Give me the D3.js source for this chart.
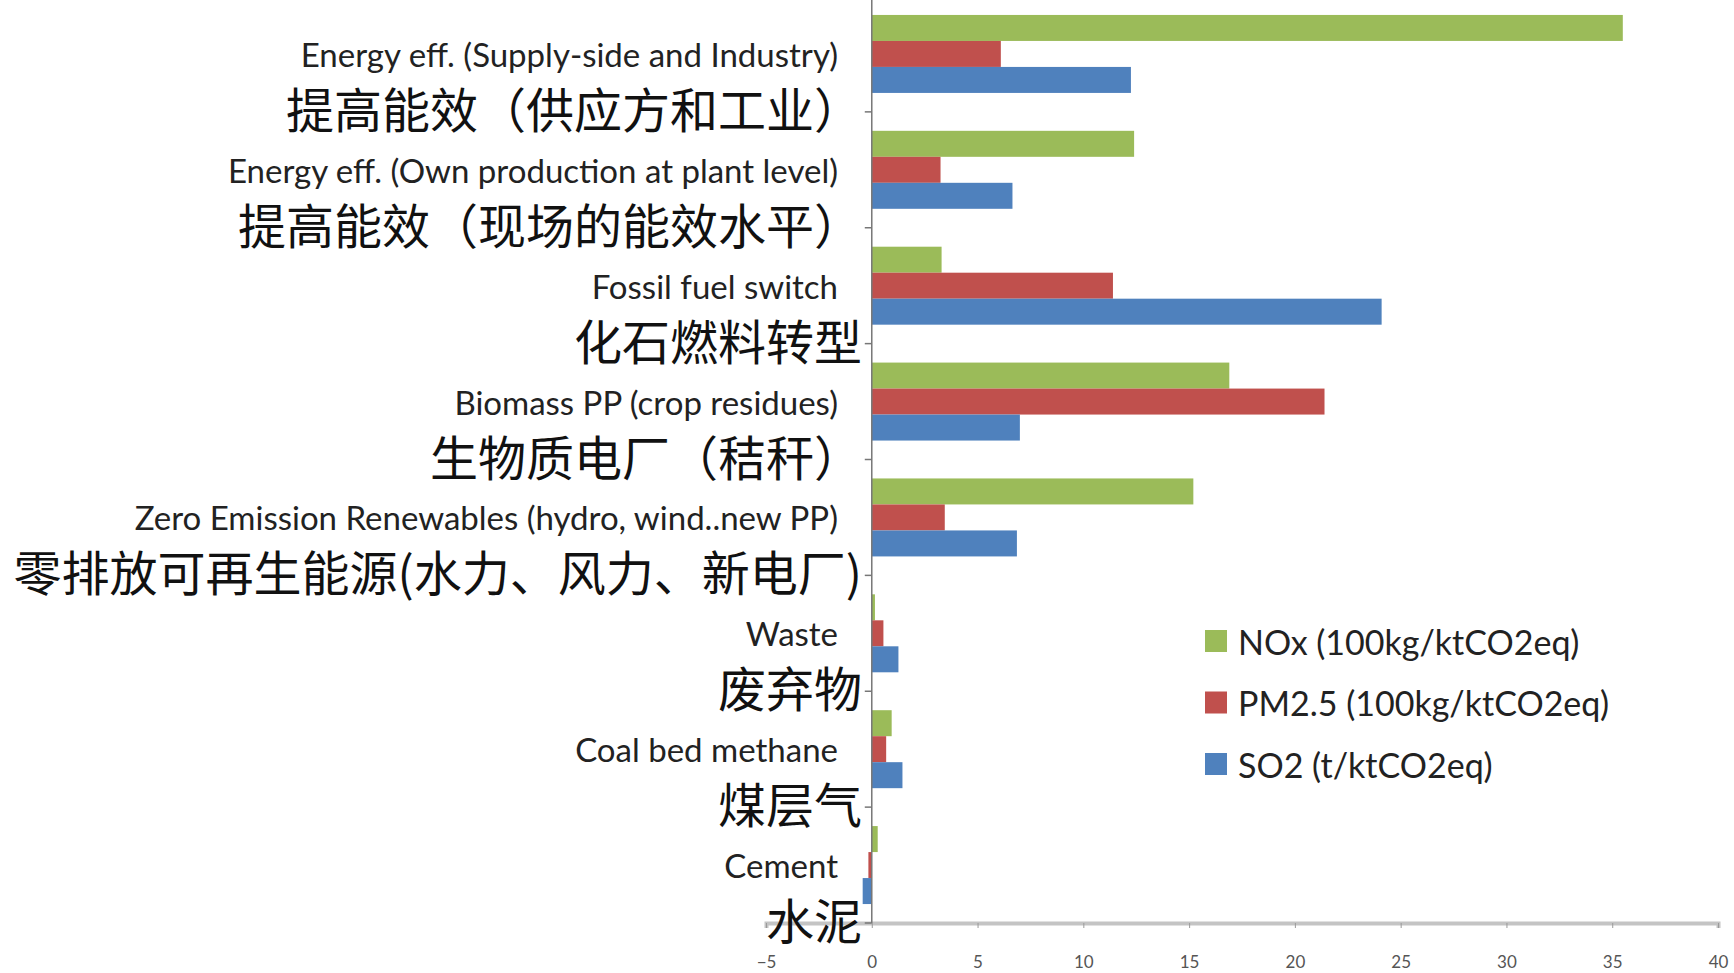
<!DOCTYPE html>
<html><head><meta charset="utf-8">
<script src="https://cdn.jsdelivr.net/npm/d3@7"></script>
<style>
html,body{margin:0;padding:0;background:#fff;overflow:hidden}
svg{display:block}
</style></head>
<body>
<svg id="c" width="1734" height="973"></svg>
<script>
const categoriesEn = ["Energy eff. (Supply-side and Industry)", "Energy eff. (Own production at plant level)", "Fossil fuel switch", "Biomass PP (crop residues)", "Zero Emission Renewables (hydro, wind..new PP)", "Waste", "Coal bed methane", "Cement"];
const categoriesZh = ["提高能效（供应方和工业）", "提高能效（现场的能效水平）", "化石燃料转型", "生物质电厂（秸秆）", "零排放可再生能源(水力、风力、新电厂)", "废弃物", "煤层气", "水泥"];
const seriesNames = ["NOx (100kg/ktCO2eq)", "PM2.5 (100kg/ktCO2eq)", "SO2 (t/ktCO2eq)"];
const noxValues = [35.5, 12.4, 3.3, 16.9, 15.2, 0.15, 0.94, 0.28];
const pm25Values = [6.1, 3.25, 11.4, 21.4, 3.45, 0.55, 0.68, -0.16];
const so2Values = [12.25, 6.65, 24.1, 7.0, 6.86, 1.26, 1.45, -0.43];
const xTicks = [-5, 0, 5, 10, 15, 20, 25, 30, 35, 40];
const seriesColors = ["#9BBB59", "#C0504D", "#4F81BD"];

const allSeries = [noxValues, pm25Values, so2Values];
const svg = d3.select("#c");

const x = d3.scaleLinear().domain([-5, 40]).range([766, 1718]);
const y = d3.scaleBand().domain(categoriesEn).range([-4, 923]).padding(0);
const yInner = d3.scaleBand().domain(seriesNames).range([0, y.bandwidth()]).paddingInner(0).paddingOuter(0.729);

// bars
const groups = svg.append("g").selectAll("g").data(categoriesEn).join("g")
  .attr("transform", d => `translate(0,${y(d)})`);
groups.selectAll("rect")
  .data((d, i) => seriesNames.map((s, j) => ({s, v: allSeries[j][i], c: seriesColors[j]})))
  .join("rect")
  .attr("x", d => x(Math.min(0, d.v)))
  .attr("width", d => Math.abs(x(d.v) - x(0)))
  .attr("y", d => yInner(d.s))
  .attr("height", yInner.bandwidth())
  .attr("fill", d => d.c);

// x axis
const xAxis = d3.axisBottom(x).tickValues(xTicks).tickSize(5).tickPadding(28).tickFormat(d3.format("d"));
const gx = svg.append("g").attr("transform", `translate(0,${y.range()[1]})`).call(xAxis);
gx.select(".domain").attr("stroke", "#c4c4c4").attr("stroke-width", 4);
gx.selectAll(".tick line").attr("stroke", "#9a9a9a");
gx.selectAll(".tick text").attr("fill", "#555").style("font-family", "Lato, sans-serif").style("font-size", "17px");

// y axis line at 0
svg.append("line").attr("x1", x(0)).attr("x2", x(0)).attr("y1", 0).attr("y2", y.range()[1])
  .attr("stroke", "#777").attr("stroke-width", 1.5);
// category ticks (band boundaries)
svg.append("g").selectAll("line").data(categoriesEn).join("line")
  .attr("x1", x(0) - 7).attr("x2", x(0))
  .attr("y1", d => y(d) + y.bandwidth()).attr("y2", d => y(d) + y.bandwidth())
  .attr("stroke", "#777").attr("stroke-width", 1.5);

// labels
const lab = svg.append("g");
lab.selectAll("text.en").data(categoriesEn).join("text").attr("class", "en")
  .attr("x", 838).attr("y", d => y(d) + y.bandwidth() / 2)
  .attr("text-anchor", "end").attr("dominant-baseline", "central")
  .style("font-family", "Lato, 'Open Sans', sans-serif").style("font-size", "33px").attr("fill", "#222")
  .text(d => d);
lab.selectAll("text.zh").data(categoriesZh).join("text").attr("class", "zh")
  .attr("x", 862).attr("y", (d, i) => y(categoriesEn[i]) + y.bandwidth() / 2 + 53)
  .attr("text-anchor", "end").attr("dominant-baseline", "central")
  .style("font-family", "'Noto Sans CJK SC', sans-serif").style("font-size", "48px").attr("fill", "#111")
  .text(d => d);

// legend
const leg = svg.append("g").attr("transform", "translate(1205,641)");
const li = leg.selectAll("g").data(seriesNames).join("g").attr("transform", (d, i) => `translate(0,${i * 61.5})`);
li.append("rect").attr("x", 0).attr("y", -11).attr("width", 22).attr("height", 22).attr("fill", (d, i) => seriesColors[i]);
li.append("text").attr("x", 33).attr("y", 0).attr("dominant-baseline", "central")
  .style("font-family", "Lato, 'Open Sans', sans-serif").style("font-size", "34px").attr("fill", "#222")
  .text(d => d);
</script>
</body></html>
